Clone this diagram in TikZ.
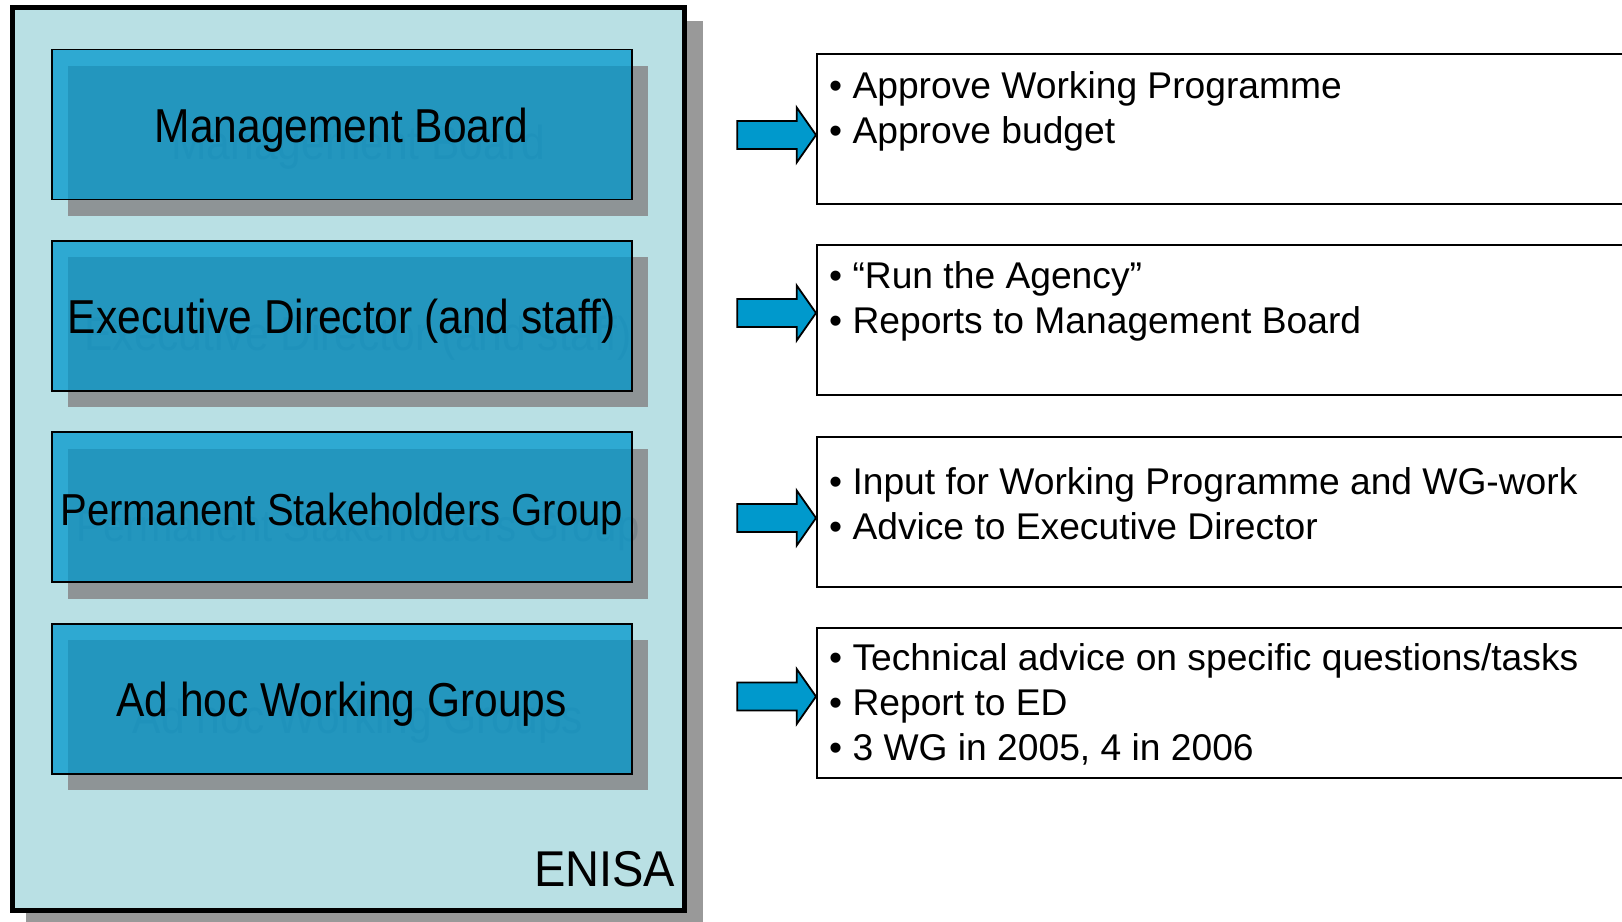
\documentclass[tikz,border=0pt]{standalone}
\usepackage{fontspec}
\setmainfont{Liberation Sans}
\usepackage{graphicx}
\usetikzlibrary{backgrounds,positioning}
\definecolor{framefill}{HTML}{B9E0E4}
\definecolor{frameshade}{HTML}{999999}
\definecolor{unitshade}{HTML}{8E9496}
\definecolor{unitblue}{HTML}{0097CC}
\definecolor{ghost}{HTML}{7C868B}
\definecolor{arrowblue}{HTML}{0099CC}
\tikzstyle{unit} = [draw, line width=1.8pt, fill=unitblue, fill opacity=.75, text opacity=1, minimum width=580pt, minimum height=150pt, inner sep=0pt, text height=36pt, text depth=0pt, font=\fontsize{42.5}{50}\selectfont]
\tikzstyle{shade} = [fill=unitshade, text=ghost, minimum width=580pt, minimum height=150pt, inner sep=0pt, text height=36pt, text depth=0pt, font=\fontsize{42.5}{50}\selectfont]
\tikzstyle{task} = [draw, line width=2pt, fill=white, anchor=north west, minimum width=840pt, minimum height=150pt]
\tikzstyle{tasktext} = [anchor=base west, align=left, inner sep=0pt, font=\fontsize{37.2}{45}\selectfont]
\tikzstyle{blockarrow} = [draw, line width=1.8pt, fill=arrowblue, line join=miter]
\newcommand{\tall}[1]{\scalebox{1}[1.12]{#1}}

\begin{document}
\begin{tikzpicture}[x=1pt, y=-1pt, node distance=191.4pt]
\useasboundingbox (0,0) rectangle (1622,921);

\node [unit, anchor=north west] (mb) at (50.7,48.6) {\tall{Management Board}};
\node [unit, below of=mb] (ed) {\tall{Executive Director (and staff)}};
\node [unit, below of=ed, font=\fontsize{40}{48}\selectfont] (psg) {\tall{Permanent Stakeholders Group}};
\node [unit, below of=psg] (wg) {\tall{Ad hoc Working Groups}};

\node [anchor=base east, inner sep=0pt, font=\fontsize{47}{50}\selectfont] (enisa) at (675.5,886.5) {\scalebox{1}[1.07]{ENISA}};

\node [task] (mbtask) at (816,52.8) {};
\node [task, below of=mbtask] (edtask) {};
\node [task, below of=edtask] (psgtask) {};
\node [task, below of=psgtask] (wgtask) {};

\node [tasktext] (mbtext) at (829,143.3) {\textbullet\ Approve Working Programme\\\textbullet\ Approve budget};
\node [tasktext] (edtext) at (829,333) {\textbullet\ “Run the Agency”\\\textbullet\ Reports to Management Board};
\node [tasktext] (psgtext) at (829,539) {\textbullet\ Input for Working Programme and WG-work\\\textbullet\ Advice to Executive Director};
\node [tasktext] (wgtext) at (829,760.3) {\textbullet\ Technical advice on specific questions/tasks\\\textbullet\ Report to ED\\\textbullet\ 3 WG in 2005, 4 in 2006};

\foreach \y in {135,313,518,696.5}
  \draw [blockarrow] (737.3,\y-14) -- (796.7,\y-14) -- (796.7,\y-27.5) -- (816,\y)
    -- (796.7,\y+27.5) -- (796.7,\y+14) -- (737.3,\y+14) -- cycle;

\begin{scope}[on background layer]
\fill [frameshade] (26,21) rectangle (703,930);
\draw [line width=5pt, fill=framefill] (12.5,7.5) rectangle (684,910.8);
\foreach \n/\t in {mb/Management Board, ed/Executive Director (and staff), wg/Ad hoc Working Groups}
  \node [shade] at ([shift={(16.5,16.5)}]\n.center) {\tall{\t}};
\node [shade, font=\fontsize{40}{48}\selectfont] at ([shift={(16.5,16.5)}]psg.center) {\tall{Permanent Stakeholders Group}};
\end{scope}

\end{tikzpicture}
\end{document}
